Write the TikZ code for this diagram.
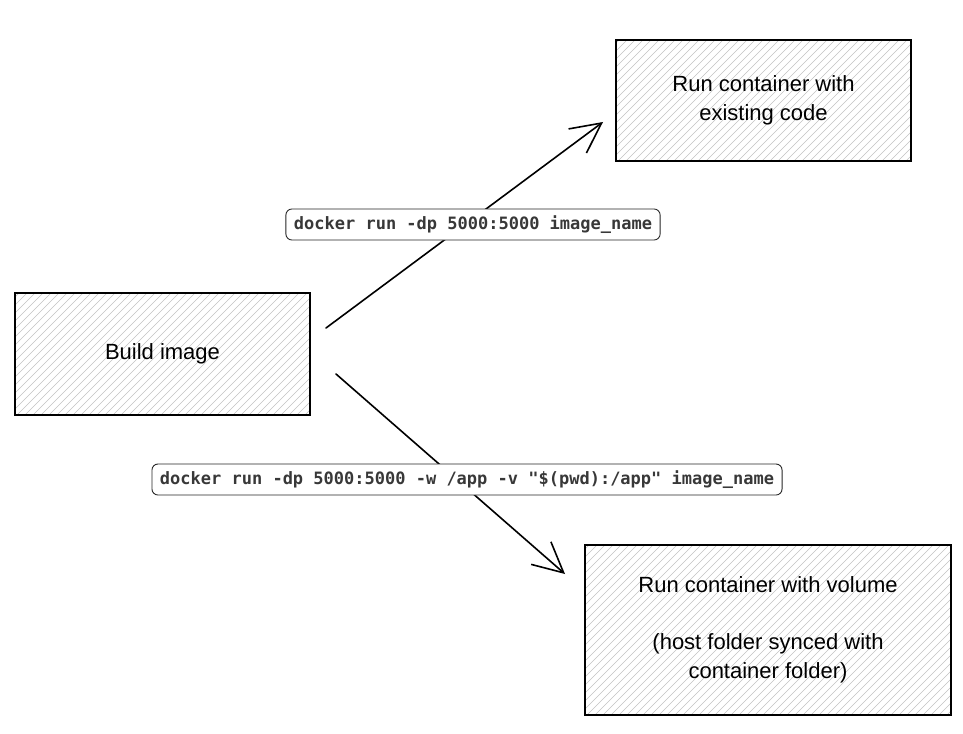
\documentclass[tikz,border=0pt]{standalone}
\usepackage{fontspec}
\setmainfont{Liberation Sans}
\newfontfamily\codefont{DejaVu Sans Mono}
\usetikzlibrary{arrows.meta}
\begin{document}
\begin{tikzpicture}[x=1pt,y=-1pt,
  hatchline/.style={draw=black!24, line width=0.6pt},
  sketchbox/.style={draw=black, line width=1.6pt, inner sep=0pt,
    font=\fontsize{22}{29}\selectfont, align=center,
    path picture={
      \foreach \k in {0,8,...,640}
        \draw[hatchline] ([xshift=\k pt-230pt]path picture bounding box.south west) -- ++(230pt,230pt);
    }},
  cmdlabel/.style={draw=black!85, fill=white, rounded corners=6pt, line width=0.9pt,
    font=\codefont\bfseries\fontsize{17}{20}\selectfont, text=black!78,
    inner xsep=8pt, inner ysep=0pt, minimum height=31pt},
  flow/.style={line width=1.6pt, line cap=round,
    -{Straight Barb[length=30pt,width=30pt,line width=1.6pt]}}
]
\useasboundingbox (0,0) rectangle (963,733);

% process boxes
\node[sketchbox, minimum width=295pt, minimum height=122pt] (build) at (162.5,354) {Build image};
\node[sketchbox, minimum width=295pt, minimum height=121pt] (existing) at (763.5,100.5)
  {Run container with\\existing code};
\node[sketchbox, minimum width=366pt, minimum height=170pt] (volume) at (768,630)
  {Run container with volume\\[28pt](host folder synced with\\container folder)};

% free ends of the two connectors
\coordinate (s1) at (326,328);
\coordinate (t1) at (603,122);
\coordinate (s2) at (336,374);
\coordinate (t2) at (565,574);

\draw[flow] (s1) -- (t1);
\draw[flow] (s2) -- (t2);

% command labels sitting on the connectors
\node[cmdlabel] (cmd1) at (473,224.5) {docker run -dp 5000:5000 image\_name};
\node[cmdlabel] (cmd2) at (467,479.5) {docker run -dp 5000:5000 -w /app -v "\$(pwd):/app" image\_name};
\end{tikzpicture}
\end{document}
